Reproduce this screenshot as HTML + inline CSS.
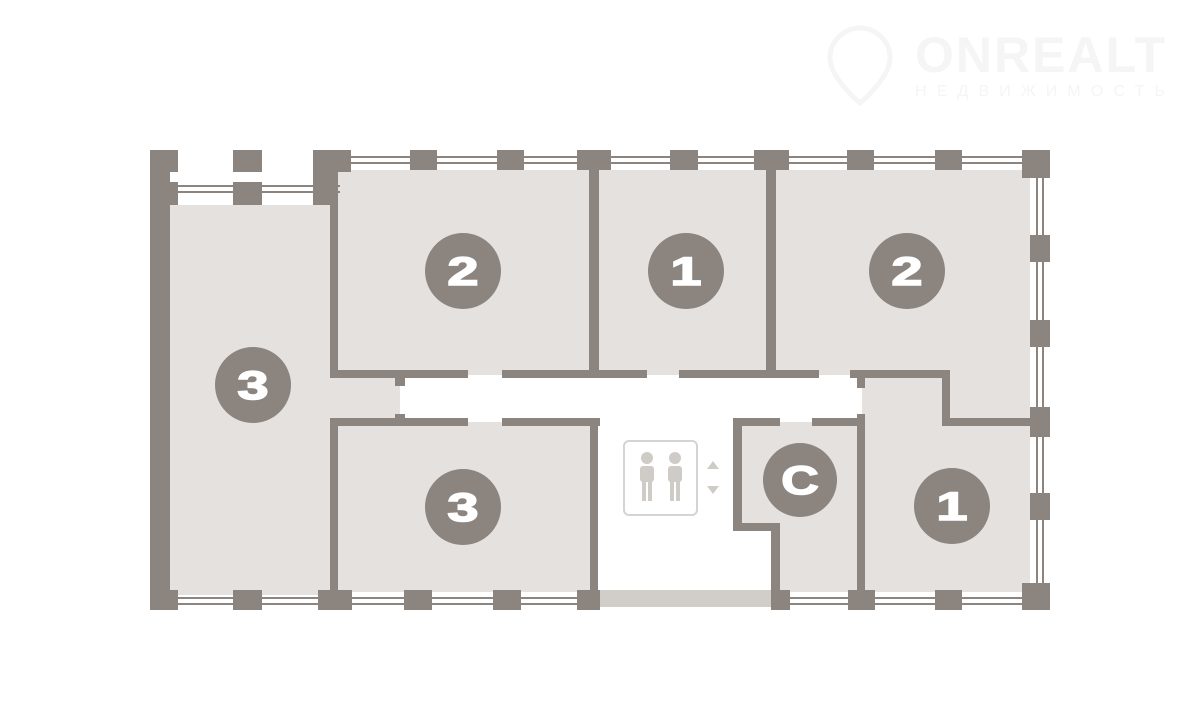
<!DOCTYPE html>
<html><head><meta charset="utf-8"><style>
html,body{margin:0;padding:0;background:#fff;width:1200px;height:711px;overflow:hidden}
svg{display:block}
.n{font-family:"Liberation Sans",sans-serif;font-weight:bold;font-size:40px;fill:#fff;stroke:#fff;stroke-width:1.5}
</style></head><body>
<svg width="1200" height="711" viewBox="0 0 1200 711">
<!-- watermark -->
<text x="915" y="72" font-family="Liberation Sans,sans-serif" font-weight="bold" font-size="50" fill="#f5f5f5" textLength="250">ONREALT</text>
<text x="915" y="96" font-family="Liberation Sans,sans-serif" font-size="16" fill="#f5f5f5" textLength="250">НЕДВИЖИМОСТЬ</text>
<path d="M860 28 a30 30 0 0 1 30 30 c0 20 -30 45 -30 45 c0 0 -30 -25 -30 -45 a30 30 0 0 1 30 -30z" fill="none" stroke="#f5f5f5" stroke-width="5"/>
<!-- room fills -->
<g fill="#e4e1de">
<rect x="170" y="205" width="165" height="390"/>
<rect x="330" y="378" width="70" height="45"/>
<rect x="335" y="170" width="260" height="205"/>
<rect x="595" y="170" width="177" height="205"/>
<rect x="772" y="170" width="258" height="205"/>
<rect x="945" y="370" width="85" height="55"/>
<rect x="335" y="422" width="260" height="170"/>
<rect x="738" y="422" width="124" height="105"/>
<rect x="775" y="522" width="87" height="70"/>
<rect x="862" y="378" width="168" height="214"/>
</g>
<rect x="598" y="590" width="173" height="17" fill="#d1cdc9"/>
<!-- window lines -->
<g stroke="#8c847e" stroke-width="2" fill="none">
<line x1="170" y1="186" x2="340" y2="186"/><line x1="170" y1="192" x2="340" y2="192"/>
<line x1="340" y1="157" x2="1040" y2="157"/><line x1="340" y1="163" x2="1040" y2="163"/>
<line x1="1037" y1="160" x2="1037" y2="600"/><line x1="1043" y1="160" x2="1043" y2="600"/>
<line x1="160" y1="598" x2="600" y2="598"/><line x1="160" y1="604" x2="600" y2="604"/>
<line x1="771" y1="598" x2="1040" y2="598"/><line x1="771" y1="604" x2="1040" y2="604"/>
</g>
<g fill="#8c847e">
<rect x="150" y="150" width="20" height="460"/>
<rect x="150" y="150" width="28" height="22"/><rect x="150" y="182" width="28" height="23"/>
<rect x="233" y="150" width="29" height="22"/><rect x="233" y="182" width="29" height="23"/>
<rect x="313" y="150" width="38" height="22"/><rect x="313" y="182" width="25" height="23"/>
<rect x="313" y="150" width="25" height="55"/>
<rect x="410" y="150" width="27" height="20"/><rect x="497" y="150" width="27" height="20"/>
<rect x="577" y="150" width="34" height="20"/><rect x="670" y="150" width="28" height="20"/>
<rect x="754" y="150" width="35" height="20"/><rect x="847" y="150" width="27" height="20"/>
<rect x="935" y="150" width="27" height="20"/><rect x="1022" y="150" width="28" height="28"/>
<rect x="1030" y="235" width="20" height="27"/><rect x="1030" y="320" width="20" height="27"/>
<rect x="1030" y="407" width="20" height="30"/><rect x="1030" y="493" width="20" height="27"/>
<rect x="1022" y="583" width="28" height="27"/>
<rect x="150" y="590" width="28" height="20"/><rect x="233" y="590" width="29" height="20"/>
<rect x="318" y="590" width="34" height="20"/><rect x="404" y="590" width="28" height="20"/>
<rect x="493" y="590" width="28" height="20"/><rect x="577" y="590" width="23" height="20"/>
<rect x="771" y="590" width="19" height="20"/><rect x="848" y="590" width="27" height="20"/>
<rect x="935" y="590" width="27" height="20"/>
<rect x="330" y="170" width="8" height="208"/>
<rect x="330" y="370" width="138" height="8"/>
<rect x="395" y="378" width="10" height="8"/><rect x="395" y="414" width="10" height="8"/>
<rect x="502" y="370" width="145" height="8"/>
<rect x="679" y="370" width="140" height="8"/>
<rect x="850" y="370" width="100" height="8"/>
<rect x="857" y="378" width="8" height="10"/>
<rect x="589" y="160" width="10" height="218"/>
<rect x="766" y="160" width="10" height="218"/>
<rect x="942" y="370" width="8" height="56"/>
<rect x="942" y="418" width="90" height="8"/>
<rect x="330" y="418" width="138" height="8"/>
<rect x="502" y="418" width="98" height="8"/>
<rect x="330" y="418" width="8" height="180"/>
<rect x="590" y="418" width="8" height="180"/>
<rect x="733" y="418" width="47" height="8"/>
<rect x="812" y="418" width="53" height="8"/>
<rect x="733" y="418" width="9" height="113"/>
<rect x="733" y="523" width="47" height="8"/>
<rect x="771" y="523" width="9" height="70"/>
<rect x="857" y="414" width="8" height="180"/>
</g>
<rect x="624" y="441" width="73" height="74" rx="5" fill="none" stroke="#d6d3d0" stroke-width="2"/>
<g fill="#cfcbc7">
<circle cx="647" cy="458" r="6"/><circle cx="675" cy="458" r="6"/>
<rect x="640" y="466" width="14" height="16" rx="3"/><rect x="642" y="478" width="4" height="23"/><rect x="648" y="478" width="4" height="23"/>
<rect x="668" y="466" width="14" height="16" rx="3"/><rect x="670" y="478" width="4" height="23"/><rect x="676" y="478" width="4" height="23"/>
<polygon points="707,469 719,469 713,461"/><polygon points="707,486 719,486 713,494"/>
</g>
<g fill="#8c847e">
<circle cx="463" cy="271" r="38"/><circle cx="686" cy="271" r="38"/><circle cx="907" cy="271" r="38"/>
<circle cx="253" cy="385" r="38"/><circle cx="463" cy="507" r="38"/><circle cx="800" cy="480" r="37"/><circle cx="952" cy="506" r="38"/>
</g>
<g class="n" text-anchor="middle">
<text x="463" y="285" transform="translate(463 0) scale(1.4 1) translate(-463 0)">2</text>
<text x="686" y="285" transform="translate(686 0) scale(1.4 1) translate(-686 0)">1</text>
<text x="907" y="285" transform="translate(907 0) scale(1.4 1) translate(-907 0)">2</text>
<text x="253" y="399" transform="translate(253 0) scale(1.4 1) translate(-253 0)">3</text>
<text x="463" y="521" transform="translate(463 0) scale(1.4 1) translate(-463 0)">3</text>
<text x="800" y="494" transform="translate(800 0) scale(1.3 1) translate(-800 0)">C</text>
<text x="952" y="520" transform="translate(952 0) scale(1.4 1) translate(-952 0)">1</text>
</g>
</svg>
</body></html>
